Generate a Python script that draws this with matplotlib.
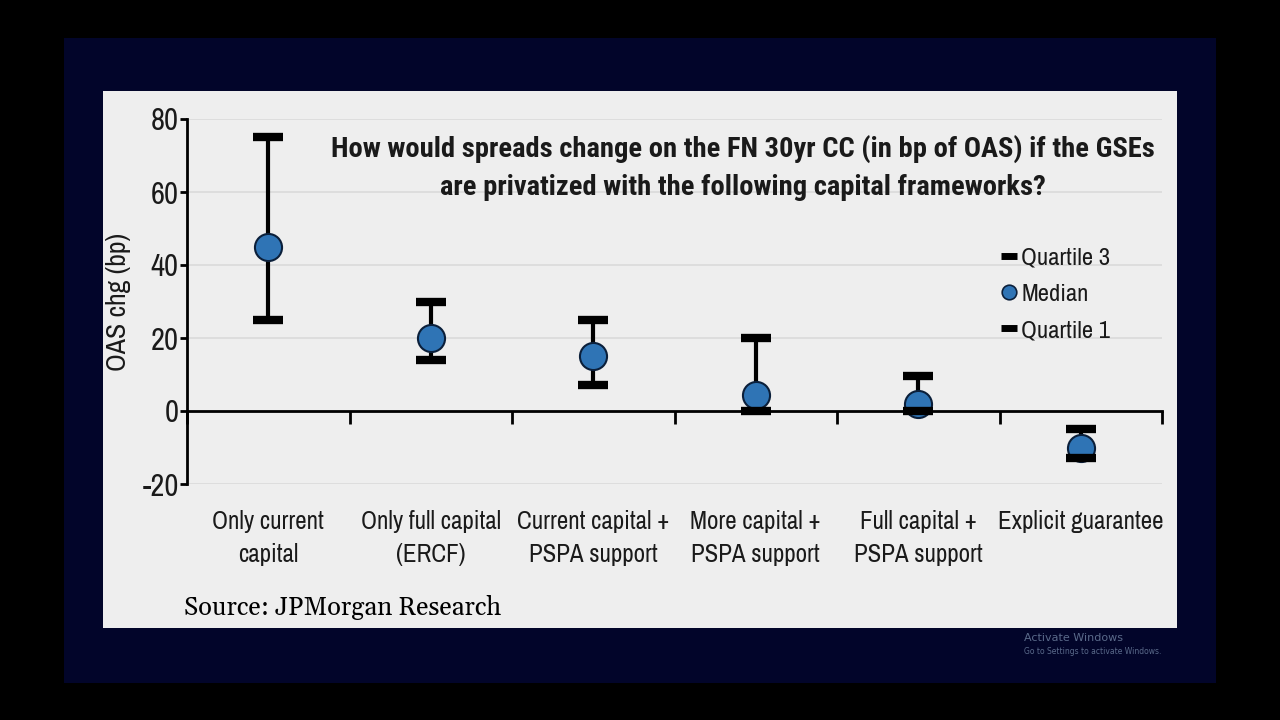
import numpy as np
import matplotlib.pyplot as plt
import matplotlib.transforms as mtransforms
from matplotlib import font_manager
from matplotlib.lines import Line2D
from matplotlib.patches import Rectangle

categories = ["Only current\ncapital", "Only full capital\n(ERCF)", "Current capital +\nPSPA support",
              "More capital +\nPSPA support", "Full capital +\nPSPA support", "Explicit guarantee"]
quartile3 = [75, 30, 25, 20, 9.5, -5]
median = [45, 20, 15, 4.5, 2, -10]
quartile1 = [25, 14, 7, 0, 0, -13]
yticks = [-20, 0, 20, 40, 60, 80]
legend_labels = ['Quartile 3', 'Median', 'Quartile 1']

fonts = font_manager.fontManager.ttflist
installed = {f.name for f in fonts}
bold_ok = {f.name for f in fonts if (f.weight if isinstance(f.weight, int) else 400) >= 600
           or f.weight == 'bold'}


def pick(prefs, need_bold=False):
    for p in prefs:
        if p in installed and (not need_bold or p in bold_ok):
            return p
    return 'DejaVu Sans'


narrow = pick(['Archivo Narrow', 'Liberation Sans Narrow', 'Roboto Condensed'])
narrow_b = pick(['Archivo Narrow', 'Liberation Sans Narrow', 'Roboto Condensed', 'PT Sans Narrow',
                 'Fira Sans Condensed', 'Barlow Semi Condensed'], need_bold=True)
k = 1.0 if narrow != 'DejaVu Sans' else 0.78    # shrink if no narrow face
kb = 1.0 if narrow_b != 'DejaVu Sans' else 0.74
serif = pick(['Gelasio', 'Liberation Serif', 'DejaVu Serif'])
blue = '#2f74b5'

fig = plt.figure(figsize=(12.8, 7.2), dpi=100, facecolor='black')
# screen frame + slide panel
fig.patches.append(Rectangle((64/1280, 1-683/720), (1216-64)/1280, (683-38)/720,
                             transform=fig.transFigure, facecolor='#02052a', edgecolor='none', zorder=-10))
fig.patches.append(Rectangle((103/1280, 1-628/720), (1177-103)/1280, (628-91)/720,
                             transform=fig.transFigure, facecolor='#eeeeee', edgecolor='none', zorder=-9))

ax = fig.add_axes([187/1280, 1-484/720, (1162-187)/1280, (484-119)/720])
ax.set_facecolor('none')
x = np.arange(len(categories))
ax.set_xlim(-0.5, len(categories) - 0.5)
ax.set_ylim(-20, 80)

for yv in [-20, 20, 40, 60, 80]:
    ax.axhline(yv, color='#dadada', lw=1.2, zorder=1)

# whiskers, medians, quartile caps
ax.vlines(x, quartile1, quartile3, color='black', lw=3.0, zorder=3)
ax.plot(x, median, 'o', ms=19.5, mfc=blue, mec='#0b1f3a', mew=1.5, zorder=4, linestyle='none')
ax.plot(x, quartile3, '_', ms=22, mew=6, color='black', zorder=5, linestyle='none')
ax.plot(x, quartile1, '_', ms=22, mew=6, color='black', zorder=5, linestyle='none')

for s in ['top', 'right']:
    ax.spines[s].set_visible(False)
ax.spines['bottom'].set_position(('data', 0))
ax.spines['bottom'].set_linewidth(2)
ax.spines['left'].set_linewidth(2)

ax.set_yticks(yticks)
ax.set_yticklabels([str(v) for v in yticks], family=narrow, fontsize=22*k, color='#1a1a1a')
ax.tick_params(axis='y', length=5, width=2, pad=1)
ax.set_xticks(np.arange(len(categories) + 1) - 0.5)
ax.set_xticklabels([])
ax.tick_params(axis='x', length=9, width=2, direction='out')

trans = mtransforms.blended_transform_factory(ax.transData, ax.transAxes)
for xi, lab in zip(x, categories):
    ax.text(xi, -0.072, lab, transform=trans, ha='center', va='top', family=narrow,
            fontsize=18*k, color='#1a1a1a', linespacing=1.5)

ax.set_ylabel('OAS chg (bp)', family=narrow, fontsize=20*k, color='#1a1a1a')
ax.yaxis.set_label_coords((131-187)/975, 0.5)

fig.text(743/1280, 1-168/720,
         'How would spreads change on the FN 30yr CC (in bp of OAS) if the GSEs\nare privatized with the following capital frameworks?',
         ha='center', va='center', family=narrow_b, fontsize=20.5*kb, fontweight='bold', color='#1a1a1a',
         linespacing=1.5)

handles = [Line2D([], [], marker='_', ms=11, mew=5, color='black', linestyle='none'),
           Line2D([], [], marker='o', ms=10.5, mfc=blue, mec='#0b1f3a', mew=1.2, linestyle='none'),
           Line2D([], [], marker='_', ms=11, mew=5, color='black', linestyle='none')]
leg = fig.legend(handles, legend_labels, loc='upper left',
                 bbox_to_anchor=(999/1280, 1-245/720), frameon=False, handlelength=0.6,
                 handletextpad=0.2, labelspacing=0.6, borderaxespad=0, borderpad=0.1,
                 prop={'family': narrow, 'size': 17.8*k})
for t in leg.get_texts():
    t.set_color('#1a1a1a')

fig.text(184/1280, 1-607/720, 'Source: JPMorgan Research', ha='left', va='center',
         family=serif, fontsize=18.3, color='black')

fig.text(1024/1280, 1-638/720, 'Activate Windows', ha='left', va='center', fontsize=8,
         color='#5a6a8a')
fig.text(1024/1280, 1-652/720, 'Go to Settings to activate Windows.', ha='left', va='center',
         fontsize=5.5, color='#5a6a8a')

fig.savefig('out.png', dpi=100, facecolor=fig.get_facecolor())
